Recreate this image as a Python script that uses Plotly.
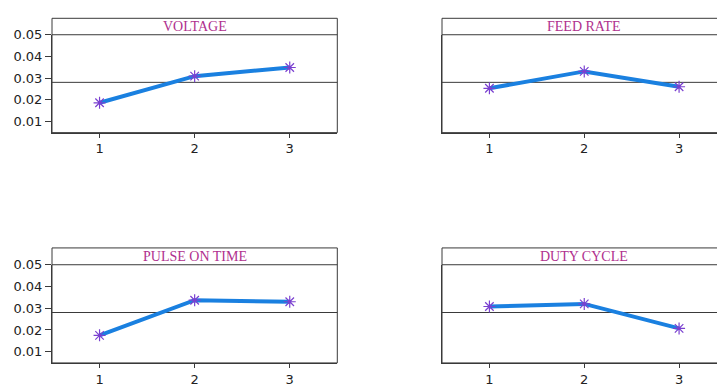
import numpy as np
import plotly.graph_objects as go

levels = [1, 2, 3]
factors = ["VOLTAGE", "FEED RATE", "PULSE ON TIME", "DUTY CYCLE"]
voltage = [0.0186, 0.0309, 0.0349]
feed_rate = [0.0253, 0.0331, 0.0260]
pulse_on_time = [0.0175, 0.0337, 0.0330]
duty_cycle = [0.0308, 0.0320, 0.0207]
y_ticks = [0.01, 0.02, 0.03, 0.04, 0.05]
y_tick_labels = ["0.01", "0.02", "0.03", "0.04", "0.05"]

series = [voltage, feed_rate, pulse_on_time, duty_cycle]
grand_mean = float(np.mean(np.concatenate([np.array(s) for s in series])))

W, H = 717, 387
def px(x):
    return x / W
def py(y):
    return 1 - y / H

# panel geometry (window pixels)
cols = [(52, 337.3), (442, 726.5)]
rows = [(11.7, 28.7, 130.0), (249.3, 266.7, 368.3)]  # strip top, data top, data bottom

fig = go.Figure()
LINE = "#1a80e0"
MARK = "#7a40d0"
AX = "#3a3a3a"
TITLE = "#b0308e"

for i, (name, vals) in enumerate(zip(factors, series)):
    r, c = divmod(i, 2)
    n = i + 1
    xa = "x" if n == 1 else f"x{n}"
    ya = "y" if n == 1 else f"y{n}"
    x0p, x1p = cols[c]
    st, dt, db = rows[r]
    xdom = [px(x0p), min(1.0, px(x1p))]
    span = (x1p - x0p) / 3.0
    xmax = 0.5 + (xdom[1] * W - x0p) / span
    fig.add_trace(go.Scatter(
        x=levels, y=vals, mode="lines+markers", xaxis=xa, yaxis=ya,
        line=dict(color=LINE, width=4),
        marker=dict(symbol="asterisk-open", size=10, color=MARK, line=dict(color=MARK, width=1.2)),
        showlegend=False, hoverinfo="skip"))
    fig.layout[("xaxis" if n == 1 else f"xaxis{n}")] = dict(
        domain=xdom, range=[0.5, xmax], anchor=ya, tickmode="array",
        tickvals=levels, ticktext=[str(v) for v in levels],
        showgrid=False, zeroline=False, showline=True, linecolor=AX, linewidth=1,
        ticks="outside", ticklen=4, tickcolor=AX,
        tickfont=dict(family="DejaVu Sans", size=13, color="#222"), fixedrange=True)
    fig.layout[("yaxis" if n == 1 else f"yaxis{n}")] = dict(
        domain=[py(db), py(dt)], range=[0.0048, 0.05005], anchor=xa,
        tickmode="array", tickvals=y_ticks, ticktext=y_tick_labels,
        showticklabels=(c == 0), ticks="outside" if c == 0 else "", ticklen=6, tickcolor=AX,
        showgrid=False, zeroline=False, showline=True, linecolor=AX, linewidth=1,
        tickfont=dict(family="DejaVu Sans", size=13, color="#222"), fixedrange=True)
    # outer box incl. strip
    fig.add_shape(type="rect", xref="paper", yref="paper",
                  x0=px(x0p), x1=px(x1p), y0=py(db), y1=py(st),
                  line=dict(color=AX, width=1), fillcolor="rgba(0,0,0,0)", layer="above")
    fig.add_shape(type="line", xref="paper", yref="paper",
                  x0=px(x0p), x1=px(x1p), y0=py(dt), y1=py(dt),
                  line=dict(color=AX, width=1))
    # reference mean line
    fig.add_shape(type="line", xref=f"{xa} domain", yref=ya,
                  x0=0, x1=1, y0=grand_mean, y1=grand_mean,
                  line=dict(color=AX, width=1), layer="below")
    fig.add_annotation(text=name, xref="paper", yref="paper",
                       x=px((x0p + x1p) / 2), y=py((st + dt) / 2),
                       showarrow=False, xanchor="center", yanchor="middle",
                       font=dict(family="Liberation Serif", size=14, color=TITLE))

fig.update_layout(width=W, height=H, margin=dict(l=0, r=0, t=0, b=0),
                  paper_bgcolor="white", plot_bgcolor="white")
fig.write_html("out.html", config={"displayModeBar": False, "staticPlot": True},
               post_script="document.body.style.margin='0';document.body.style.overflow='hidden';")
